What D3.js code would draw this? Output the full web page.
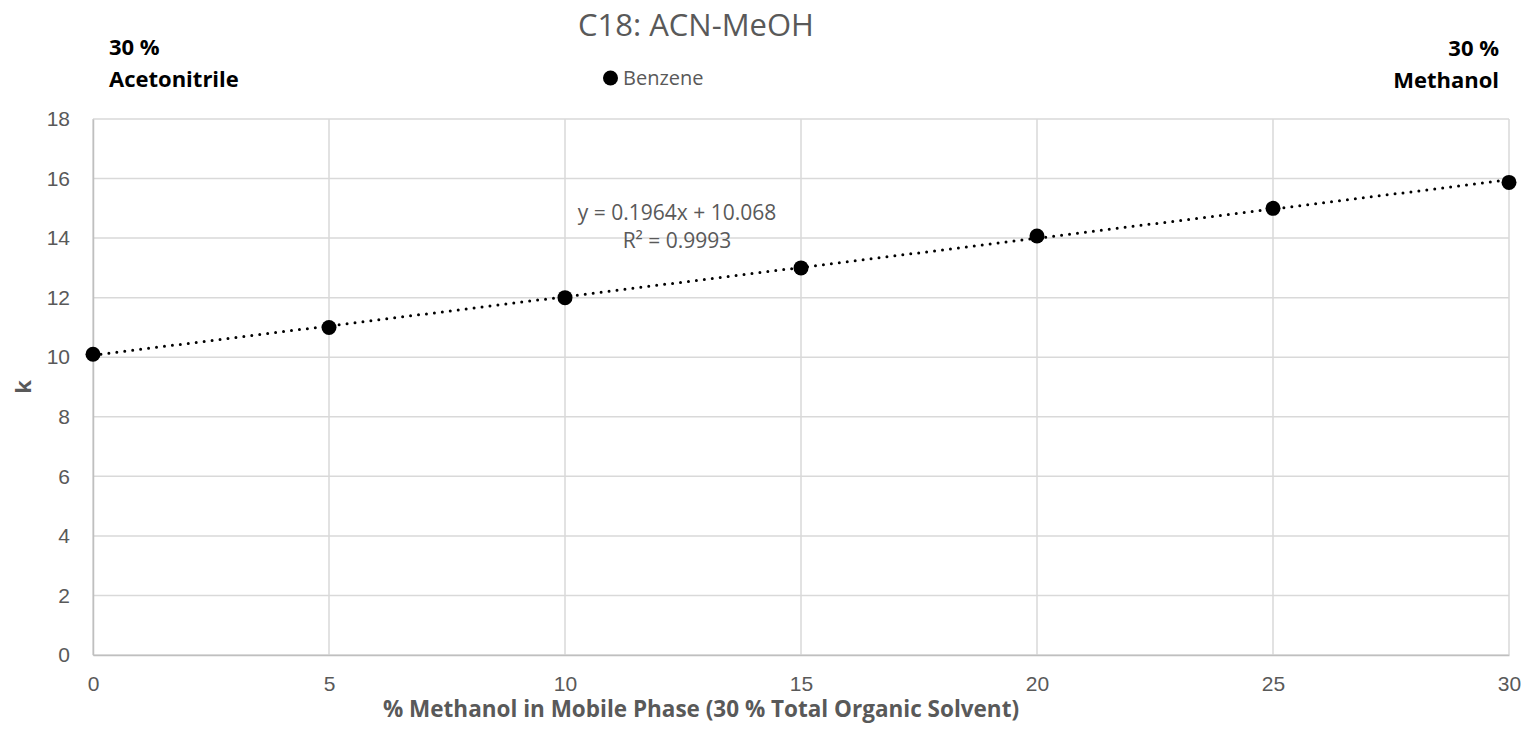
<!DOCTYPE html>
<html>
<head>
<meta charset="utf-8">
<script src="https://cdn.jsdelivr.net/npm/d3@7"></script>
<style>
  html, body { margin: 0; padding: 0; background: #fff; }
  svg { display: block; font-family: "Open Sans", "Liberation Sans", sans-serif; }
</style>
</head>
<body>
<svg id="chart" width="1524" height="732"></svg>
<script>
// Benzene retention factor vs. methanol share of a 30 % organic mobile phase
const methanolPct = [0, 5, 10, 15, 20, 25, 30];
const benzeneK = [10.1, 11.0, 12.0, 13.0, 14.07, 15.0, 15.87];
const xTicks = [0, 5, 10, 15, 20, 25, 30];
const yTicks = [0, 2, 4, 6, 8, 10, 12, 14, 16, 18];
const trendSlope = 0.1964;
const trendIntercept = 10.068;
const trendR2 = 0.9993;

const svg = d3.select("#chart");
const margin = { left: 93, right: 15, top: 119, bottom: 77 };
const W = 1524, H = 732;

const x = d3.scaleLinear().domain([0, 30]).range([margin.left, W - margin.right]);
const y = d3.scaleLinear().domain([0, 18]).range([H - margin.bottom, margin.top]);

const grey = "#595959";
const gridCol = "#d9d9d9";

// gridlines
svg.append("g").selectAll("line").data(yTicks).join("line")
  .attr("x1", x(0)).attr("x2", x(30))
  .attr("y1", d => y(d)).attr("y2", d => y(d))
  .attr("stroke", gridCol).attr("stroke-width", 1.5);
svg.append("g").selectAll("line").data(xTicks).join("line")
  .attr("y1", y(0)).attr("y2", y(18))
  .attr("x1", d => x(d)).attr("x2", d => x(d))
  .attr("stroke", gridCol).attr("stroke-width", 1.5);

// axes (labels only; the frame comes from the grid)
const xAxis = d3.axisBottom(x).tickValues(xTicks).tickSize(0).tickPadding(21);
const gx = svg.append("g").attr("transform", `translate(0,${y(0)})`).call(xAxis);
gx.select(".domain").attr("stroke", "#bfbfbf").attr("stroke-width", 1.5);
gx.selectAll("text").attr("fill", grey).attr("font-family", null).style("font-size", "21px");

const yAxis = d3.axisLeft(y).tickValues(yTicks).tickSize(0).tickPadding(23);
const gy = svg.append("g").attr("transform", `translate(${x(0)},0)`).call(yAxis);
gy.select(".domain").attr("stroke", "#bfbfbf").attr("stroke-width", 1.5);
gy.selectAll("text").attr("fill", grey).attr("font-family", null).style("font-size", "21px");

// linear trendline (dotted)
svg.append("line")
  .attr("x1", x(0)).attr("y1", y(trendIntercept))
  .attr("x2", x(30)).attr("y2", y(trendIntercept + trendSlope * 30))
  .attr("stroke", "#000").attr("stroke-width", 3)
  .attr("stroke-linecap", "round").attr("stroke-dasharray", "0 8");

// data markers
svg.append("g").selectAll("circle").data(methanolPct).join("circle")
  .attr("cx", d => x(d))
  .attr("cy", (d, i) => y(benzeneK[i]))
  .attr("r", 7.5).attr("fill", "#000");

// trendline equation
const eq = svg.append("text").attr("text-anchor", "middle").attr("fill", grey).style("font-size", "21px");
eq.append("tspan").attr("x", 677).attr("y", 220).text(`y = ${trendSlope}x + ${trendIntercept}`);
eq.append("tspan").attr("x", 677).attr("y", 248).text(`R² = ${trendR2}`);

// title
svg.append("text").attr("x", 696).attr("y", 36).attr("text-anchor", "middle")
  .attr("fill", grey).style("font-size", "31px").text("C18: ACN-MeOH");

// legend
svg.append("circle").attr("cx", 610.5).attr("cy", 78).attr("r", 7.5).attr("fill", "#000");
svg.append("text").attr("x", 623).attr("y", 85).attr("fill", grey).style("font-size", "20px").text("Benzene");

// axis titles
svg.append("text").attr("x", 701).attr("y", 717).attr("text-anchor", "middle")
  .attr("fill", grey).style("font-size", "22.5px").style("font-weight", "bold")
  .text("% Methanol in Mobile Phase (30 % Total Organic Solvent)");
svg.append("text").attr("transform", `translate(31,387) rotate(-90)`).attr("text-anchor", "middle")
  .attr("fill", grey).style("font-size", "22px").style("font-weight", "bold").text("k");

// corner annotations
const left = svg.append("text").attr("fill", "#000").style("font-size", "22px").style("font-weight", "bold");
left.append("tspan").attr("x", 109).attr("y", 55).text("30 %");
left.append("tspan").attr("x", 109).attr("y", 87).text("Acetonitrile");
const right = svg.append("text").attr("fill", "#000").attr("text-anchor", "end").style("font-size", "22px").style("font-weight", "bold");
right.append("tspan").attr("x", 1499).attr("y", 56).text("30 %");
right.append("tspan").attr("x", 1499).attr("y", 88).text("Methanol");
</script>
</body>
</html>
